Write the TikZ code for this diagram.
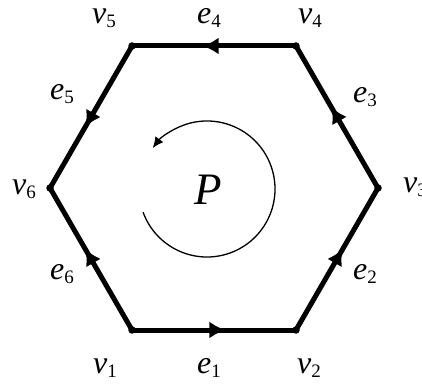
\documentclass[tikz,border=0pt]{standalone}
\usepackage{fontspec}
\setmainfont{Liberation Serif}
\usetikzlibrary{arrows.meta,decorations.markings}
\newcommand\lbl[2]{\textit{#1}\raisebox{-4pt}{\fontsize{19}{19}\selectfont #2}}
\tikzset{
  vdot/.style={circle,fill=black,inner sep=0pt,minimum size=7.5pt},
  edgeline/.style={line width=5pt,
    postaction={decorate,decoration={markings,
      mark=at position 0.57 with {\arrow{Latex[length=16pt,width=17pt]}}}}},
  lab/.style={anchor=base west,inner sep=0pt,font=\fontsize{32}{36}\selectfont},
}
\begin{document}
\begin{tikzpicture}[x=1pt,y=1pt]
\useasboundingbox (0,0) rectangle (422,385);
\node[vdot] (v1) at (132,55) {};
\node[vdot] (v2) at (296,55) {};
\node[vdot] (v3) at (378,197) {};
\node[vdot] (v4) at (296,339) {};
\node[vdot] (v5) at (132,339) {};
\node[vdot] (v6) at (50,197) {};
\draw[edgeline] (v1.center) -- (v2.center);
\draw[edgeline] (v2.center) -- (v3.center);
\draw[edgeline] (v3.center) -- (v4.center);
\draw[edgeline] (v4.center) -- (v5.center);
\draw[edgeline] (v5.center) -- (v6.center);
\draw[edgeline] (v1.center) -- (v6.center);
\node[lab] (lv5) at (92,361) {\lbl{v}{5}};
\node[lab] (le4) at (197,361) {\lbl{e}{4}};
\node[lab] (lv4) at (298,361) {\lbl{v}{4}};
\node[lab] (le5) at (50,285) {\lbl{e}{5}};
\node[lab] (le3) at (353,282) {\lbl{e}{3}};
\node[lab] (lv6) at (12,190) {\lbl{v}{6}};
\node[lab] (lv3) at (403,192) {\lbl{v}{3}};
\node[lab] (le6) at (50,105) {\lbl{e}{6}};
\node[lab] (le2) at (353,105) {\lbl{e}{2}};
\node[lab] (lv1) at (93,12) {\lbl{v}{1}};
\node[lab] (le1) at (197,12) {\lbl{e}{1}};
\node[lab] (lv2) at (297,12) {\lbl{v}{2}};
\node[anchor=base,inner sep=0pt,font=\fontsize{45}{50}\selectfont\itshape] (P) at (208,180) {P};
\coordinate (c) at (207,196);
\draw[line width=1.3pt,-{Latex[length=11pt,width=10pt]}] ([shift={(200:68)}]c) arc[start angle=200,end angle=503,radius=68];
\end{tikzpicture}
\end{document}
